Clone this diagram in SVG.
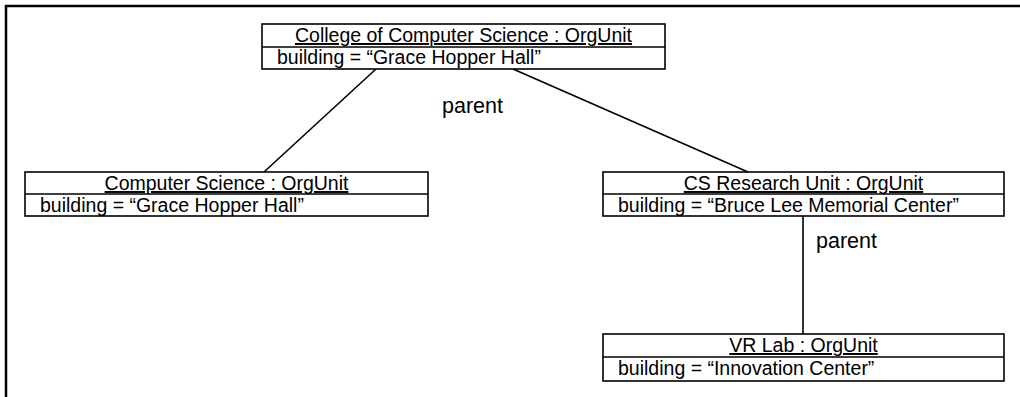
<svg xmlns="http://www.w3.org/2000/svg" width="1020" height="397" viewBox="0 0 1020 397">
<style>
.box{fill:#fff;stroke:#000;stroke-width:1.6}
.div{stroke:#000;stroke-width:1.6}
.t{font-family:"Liberation Sans",Arial,sans-serif;font-size:19.5px;fill:#000}
.title{text-anchor:middle;text-decoration:underline}
.lbl{font-family:"Liberation Sans",Arial,sans-serif;font-size:21.5px;fill:#000}
.conn{stroke:#000;stroke-width:1.6;fill:none}
</style>
<rect width="1020" height="397" fill="#fff"/>
<path d="M6,397 V6 H1020" fill="none" stroke="#000" stroke-width="2.5"/>
<g id="connectors">
<line class="conn" x1="376" y1="69" x2="264" y2="172"/>
<line class="conn" x1="513" y1="69" x2="748" y2="172"/>
<line class="conn" x1="803" y1="216" x2="803" y2="334"/>
<text class="lbl" x="442" y="113">parent</text>
<text class="lbl" x="816" y="248">parent</text>
</g>
<g id="college">
<rect class="box" x="262" y="24" width="403" height="45"/>
<line class="div" x1="262" y1="47" x2="665" y2="47"/>
<text class="t title" x="463.5" y="42">College of Computer Science : OrgUnit</text>
<text class="t" x="277" y="64">building = “Grace Hopper Hall”</text>
</g>
<g id="cs">
<rect class="box" x="25" y="172" width="403" height="44"/>
<line class="div" x1="25" y1="194" x2="428" y2="194"/>
<text class="t title" x="226.5" y="190">Computer Science : OrgUnit</text>
<text class="t" x="40" y="212">building = “Grace Hopper Hall”</text>
</g>
<g id="csr">
<rect class="box" x="603" y="172" width="401" height="44"/>
<line class="div" x1="603" y1="194" x2="1004" y2="194"/>
<text class="t title" x="803.5" y="190">CS Research Unit : OrgUnit</text>
<text class="t" x="618" y="212">building = “Bruce Lee Memorial Center”</text>
</g>
<g id="vrlab">
<rect class="box" x="603" y="334" width="401" height="47"/>
<line class="div" x1="603" y1="357" x2="1004" y2="357"/>
<text class="t title" x="803.5" y="352">VR Lab : OrgUnit</text>
<text class="t" x="618" y="375">building = “Innovation Center”</text>
</g>
</svg>
